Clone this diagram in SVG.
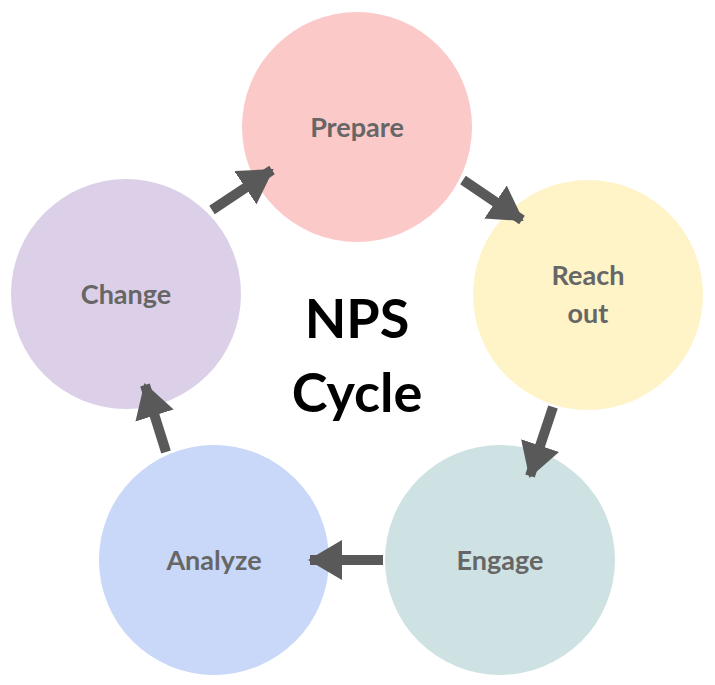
<svg xmlns="http://www.w3.org/2000/svg" width="715" height="685" viewBox="0 0 715 685">
<style>
.lbl{font-family:Lato,"Liberation Sans",sans-serif;font-weight:bold;font-size:27px;fill:#666;text-anchor:middle}
.ttl{font-family:Lato,"Liberation Sans",sans-serif;font-weight:bold;font-size:54px;fill:#000;text-anchor:middle}
.con{stroke:#595959;stroke-width:10;fill:none}
</style>
<defs>
<marker id="ah" markerUnits="userSpaceOnUse" markerWidth="36" markerHeight="40" refX="32" refY="20" orient="auto">
<path d="M0,0 L34,20 L0,40 Z" fill="#595959"/>
</marker>
</defs>
<rect width="715" height="685" fill="#fff"/>
<g id="prepare"><circle cx="357" cy="127" r="115" fill="#fcc9c9"/><text class="lbl" x="357" y="137">Prepare</text></g>
<g id="reachout"><circle cx="588" cy="295" r="115" fill="#fff3c8"/><text class="lbl" x="588" y="285">Reach</text><text class="lbl" x="588" y="323">out</text></g>
<g id="engage"><circle cx="500" cy="560" r="115" fill="#cfe2e3"/><text class="lbl" x="500" y="570">Engage</text></g>
<g id="analyze"><circle cx="214" cy="560" r="115" fill="#c9d8f8"/><text class="lbl" x="214" y="570">Analyze</text></g>
<g id="change"><circle cx="126" cy="294" r="115" fill="#dcd0e8"/><text class="lbl" x="126" y="304">Change</text></g>
<g id="title"><text class="ttl" x="357" y="338">NPS</text><text class="ttl" x="357" y="412">Cycle</text></g>
<g id="connectors">
<line class="con" x1="212" y1="210" x2="272" y2="170" marker-end="url(#ah)"/>
<line class="con" x1="463" y1="180" x2="522" y2="220" marker-end="url(#ah)"/>
<line class="con" x1="553" y1="407" x2="530" y2="476" marker-end="url(#ah)"/>
<line class="con" x1="383" y1="560" x2="310" y2="560" marker-end="url(#ah)"/>
<line class="con" x1="166" y1="452" x2="145" y2="385" marker-end="url(#ah)"/>
</g>
</svg>
